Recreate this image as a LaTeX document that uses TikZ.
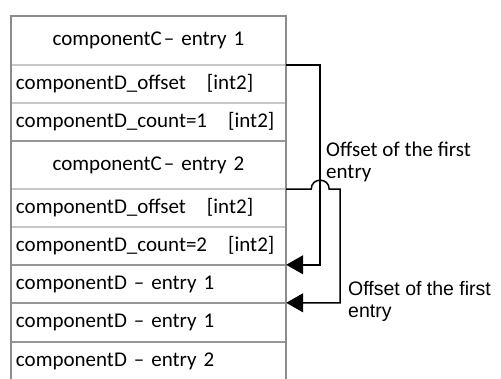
\documentclass[tikz,border=0pt]{standalone}
\usepackage{fontspec}
\setmainfont{Carlito}
\newfontfamily\arialfont{Liberation Sans}
\usetikzlibrary{arrows.meta}
\begin{document}
\begin{tikzpicture}[x=1pt,y=-1pt,
  rowbox/.style={rectangle, draw=none, minimum width=275pt, text width=265pt, inner sep=5pt,
    font=\fontsize{21}{24}\selectfont, anchor=center},
  crow/.style={rowbox, align=center},
  drow/.style={rowbox, align=left},
  lightsep/.style={draw={rgb,255:red,200;green,200;blue,200}, line width=1.6pt},
  darksep/.style={draw={rgb,255:red,150;green,150;blue,150}, line width=1.8pt},
  border/.style={draw={rgb,255:red,140;green,140;blue,140}, line width=1.8pt},
  conn/.style={draw=black, line width=1.5pt},
  arr/.style={conn, -{Triangle[length=17pt,width=19pt]}},
  lab/.style={inner sep=0pt, anchor=west, align=left}
]
\useasboundingbox (0,0) rectangle (501,379);
\node[crow, minimum height=49pt] (r1) at (148.5,40.5) {componentC\hspace{0.1em}– entry 1};
\node[drow, minimum height=38pt] (r2) at (148.5,84) {componentD\_offset~~~[int2]};
\node[drow, minimum height=38pt] (r3) at (148.5,122) {componentD\_count=1~~~[int2]};
\node[crow, minimum height=48pt] (r4) at (148.5,165) {componentC\hspace{0.1em}– entry 2};
\node[drow, minimum height=38pt] (r5) at (148.5,208) {componentD\_offset~~~[int2]};
\node[drow, minimum height=38pt] (r6) at (148.5,246) {componentD\_count=2~~~[int2]};
\node[drow, minimum height=38pt] (r7) at (148.5,284) {componentD – entry 1};
\node[drow, minimum height=39pt] (r8) at (148.5,322.5) {componentD – entry 1};
\node[drow, minimum height=39pt] (r9) at (148.5,361.5) {componentD – entry 2};
% separators
\draw[lightsep] (r1.south west) -- (r1.south east);
\draw[lightsep] (r2.south west) -- (r2.south east);
\draw[darksep] (r3.south west) -- (r3.south east);
\draw[lightsep] (r4.south west) -- (r4.south east);
\draw[lightsep] (r5.south west) -- (r5.south east);
\draw[darksep] (r6.south west) -- (r6.south east);
\draw[darksep] (r7.south west) -- (r7.south east);
\draw[darksep] (r8.south west) -- (r8.south east);
% border (no bottom edge)
\draw[border] (r9.south west) -- (r1.north west) -- (r1.north east) -- (r9.south east);
% connector 1
\draw[arr] (r1.south east) -- ++(34,0) |- (r7.north east);
% connector 2 with hop over connector 1
\path (r4.south east) ++(25,0) coordinate (hopL) ++(18,0) coordinate (hopR);
\path (r4.south east) ++(54,0) coordinate (turn2);
\draw[arr] (r4.south east) -- (hopL) .. controls +(0,-12) and +(0,-12) .. (hopR) -- (turn2) |- (r8.north east);
% labels
\node[lab, font=\fontsize{21}{22}\selectfont] (lab1) at (326,162) {Offset of the first\\entry};
\node[lab, font=\arialfont\fontsize{19.5}{22}\selectfont] (lab2) at (348,301) {Offset of the first\\entry};
\end{tikzpicture}
\end{document}
